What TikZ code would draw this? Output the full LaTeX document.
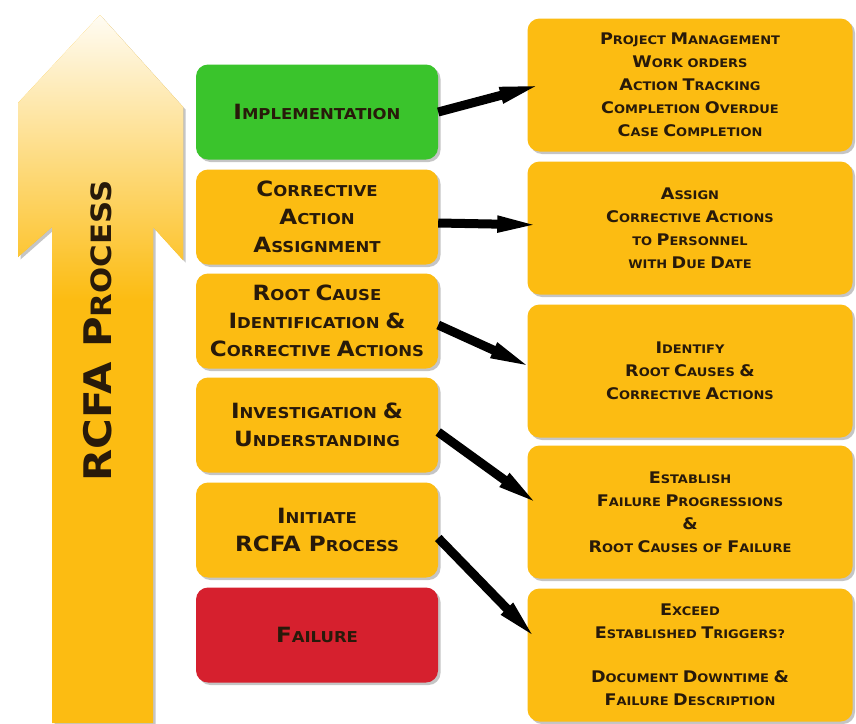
\documentclass[tikz,border=0pt]{standalone}
\usepackage{fontspec}
\newfontfamily\rcfont{DejaVu Sans Bold}[FakeStretch=1.1]
\usepackage{tikz}
\usetikzlibrary{shadows, arrows.meta}

\definecolor{rcyellow}{RGB}{252,188,18}
\definecolor{rcgreen}{RGB}{58,196,44}
\definecolor{rcred}{RGB}{214,32,46}
\definecolor{rctext}{RGB}{40,26,10}

% big letter of the small caps
\newcommand\C[1]{{\fontsize{\capsz}{\capsz}\selectfont #1}}
\newcommand\rcarrow{(52,723) -- (52,227) -- (18,257) -- (18,103) -- (100,15) -- (183,107) -- (183,260) -- (153,227) -- (153,723) -- cycle}

\tikzset{
  boxshadow/.style={drop shadow={shadow xshift=2.5pt, shadow yshift=-2.5pt, opacity=.45}},
  stage/.style={rectangle, rounded corners=12pt, fill=rcyellow, boxshadow,
    minimum width=242pt, minimum height=95pt, inner sep=0pt, align=center, text=rctext,
    font=\rcfont\fontsize{15}{28}\selectfont\def\capsz{21}},
  task/.style={stage, minimum width=325pt, minimum height=133pt,
    font=\rcfont\fontsize{11.8}{23}\selectfont\def\capsz{16}},
  pointer/.style={line width=9pt, black, -{Triangle[length=48pt,width=14pt]}}
}

\begin{document}
\begin{tikzpicture}[x=1pt, y=-1pt]
            \useasboundingbox (0,0) rectangle (856,723);
            \fill[white] (0,0) rectangle (856,723);

            % Draw the big process arrow
            \fill[rcyellow, boxshadow] \rcarrow;
            \begin{scope}
              \clip \rcarrow;
              \shade[top color=white, middle color=rcyellow!18, bottom color=rcyellow] (0,0) rectangle (200,300);
            \end{scope}
            \node[rotate=90, text=rctext, font=\rcfont\fontsize{28}{28}\selectfont\def\capsz{38}] (title) at (98,331) {\C{RCFA P}ROCESS};

            % Process steps
            \node[stage, fill=rcgreen] (impl) at (317,112) {\C{I}MPLEMENTATION};
            \node[stage] (caa) at (317,217) {\C{C}ORRECTIVE\\\C{A}CTION\\\C{A}SSIGNMENT};
            \node[stage] (rci) at (317,321) {\C{R}OOT \C{C}AUSE\\\C{I}DENTIFICATION \C{\&}\\\C{C}ORRECTIVE \C{A}CTIONS};
            \node[stage] (inv) at (317,425) {\C{I}NVESTIGATION \C{\&}\\\C{U}NDERSTANDING};
            \node[stage] (ini) at (317,530) {\C{I}NITIATE\\\C{RCFA P}ROCESS};
            \node[stage, fill=rcred] (fail) at (317,635) {\C{F}AILURE};

            % Tasks of each step
            \node[task] (pm) at (690,85) {\C{P}ROJECT \C{M}ANAGEMENT\\\C{W}ORK ORDERS\\\C{A}CTION \C{T}RACKING\\\C{C}OMPLETION \C{O}VERDUE\\\C{C}ASE \C{C}OMPLETION};
            \node[task] (asg) at (690,228) {\C{A}SSIGN\\\C{C}ORRECTIVE \C{A}CTIONS\\TO \C{P}ERSONNEL\\WITH \C{D}UE \C{D}ATE};
            \node[task] (ident) at (690,371) {\C{I}DENTIFY\\\C{R}OOT \C{C}AUSES \C{\&}\\\C{C}ORRECTIVE \C{A}CTIONS};
            \node[task] (estab) at (690,512) {\C{E}STABLISH\\\C{F}AILURE \C{P}ROGRESSIONS\\\C{\&}\\\C{R}OOT \C{C}AUSES OF \C{F}AILURE};
            \node[task] (exceed) at (690,655) {\C{E}XCEED\\\C{E}STABLISHED \C{T}RIGGERS?\\[21pt]\C{D}OCUMENT \C{D}OWNTIME \C{\&}\\\C{F}AILURE \C{D}ESCRIPTION};

            % Arrow tips inside the task boxes
            \coordinate (t1) at ([xshift=20pt, yshift=2pt]pm.west);
            \coordinate (t2) at ([xshift=18pt, yshift=3pt]asg.west);
            \coordinate (t3) at ([xshift=10pt, yshift=1pt]ident.west);
            \coordinate (t4) at ([xshift=16pt, yshift=4pt]estab.west);
            \coordinate (t5) at ([xshift=13pt, yshift=12pt]exceed.west);

            \draw[pointer] (impl.east) -- (t1);
            \draw[pointer] ([yshift=-6pt]caa.east) -- (t2);
            \draw[pointer] ([yshift=-4pt]rci.east) -- (t3);
            \draw[pointer] ([yshift=-7pt]inv.east) -- (t4);
            \draw[pointer] ([yshift=-8pt]ini.east) -- (t5);
        \end{tikzpicture}
\end{document}
